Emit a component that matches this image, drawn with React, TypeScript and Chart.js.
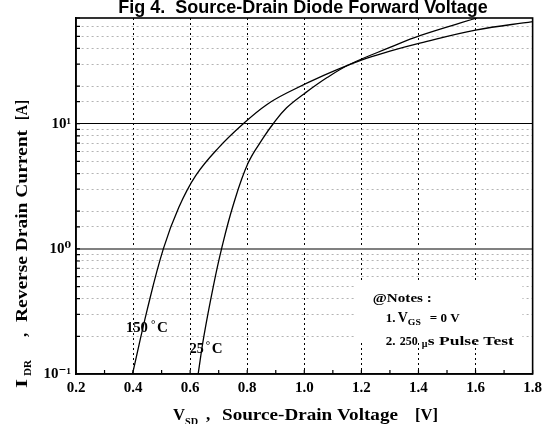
import React, { useEffect, useRef } from "react";
import { Chart, registerables } from "chart.js";

Chart.register(...registerables);

// ---- data ----
const vsd150 = [0.398, 0.45, 0.506, 0.56, 0.62, 0.7, 0.786, 0.868, 0.949, 1.07, 1.2, 1.3, 1.405, 1.6, 1.8];
const idr150 = [0.1, 0.33, 1.0, 2.14, 3.87, 6.45, 10, 14.2, 18.1, 24.5, 32.3, 38, 44, 56, 65.5];
const vsd25 = [0.628, 0.648, 0.681, 0.71, 0.751, 0.803, 0.856, 0.891, 0.938, 1.0, 1.08, 1.16, 1.3, 1.405, 1.605];
const idr25 = [0.1, 0.2, 0.5, 1.0, 2.24, 4.85, 7.7, 10, 13.4, 17.4, 23.4, 29.9, 40.7, 50.6, 70];

const xTickLabels = ["0.2", "0.4", "0.6", "0.8", "1.0", "1.2", "1.4", "1.6", "1.8"];
const yTickValues = [0.1, 1, 10];
const yTickLabels = ["10\u207B\u00B9", "10\u2070", "10\u00B9"];

const SERIF = "'Liberation Serif', 'DejaVu Serif', serif";

function fitText(ctx: CanvasRenderingContext2D, text: string, x: number, y: number, w: number | null, font: string) {
  ctx.font = font;
  const m = ctx.measureText(text).width;
  ctx.save();
  ctx.translate(x, y);
  if (w && m > 0) ctx.scale(w / m, 1);
  ctx.fillText(text, 0, 0);
  ctx.restore();
}

const decorPlugin = {
  id: "decor",
  beforeDatasetsDraw(chart: any) {
    const { ctx } = chart;
    const xs = chart.scales.x;
    const ys = chart.scales.y;
    // white notes box
    const x0 = xs.getPixelForValue(1.175);
    const x1 = xs.getPixelForValue(1.764);
    const y0 = ys.getPixelForValue(0.54);
    const y1 = ys.getPixelForValue(0.177);
    ctx.save();
    ctx.fillStyle = "#fff";
    ctx.fillRect(x0, y0, x1 - x0, y1 - y0);
    ctx.restore();
  },
  afterDraw(chart: any) {
    const { ctx, chartArea } = chart;
    const xs = chart.scales.x;
    const ys = chart.scales.y;
    ctx.save();
    // inner tick marks
    ctx.strokeStyle = "#000";
    ctx.lineWidth = 1.2;
    ctx.beginPath();
    xs.ticks.forEach((t: any) => {
      const px = xs.getPixelForValue(t.value);
      ctx.moveTo(px, chartArea.bottom);
      ctx.lineTo(px, chartArea.bottom - 4);
    });
    ys.ticks.forEach((t: any) => {
      const py = ys.getPixelForValue(t.value);
      ctx.moveTo(chartArea.left, py);
      ctx.lineTo(chartArea.left + 4, py);
    });
    ctx.stroke();
    // frame
    ctx.lineWidth = 1.6;
    ctx.strokeRect(chartArea.left, chartArea.top, chartArea.right - chartArea.left, chartArea.bottom - chartArea.top);

    ctx.fillStyle = "#000";
    ctx.textBaseline = "alphabetic";
    ctx.textAlign = "left";

    // title
    ctx.textAlign = "center";
    ctx.font = "bold 18px 'Liberation Sans', Arial, sans-serif";
    ctx.fillText("Fig 4.  Source-Drain Diode Forward Voltage", 303, 13);
    ctx.textAlign = "left";

    // x axis title
    fitText(ctx, "V", 173, 420, 12, `bold 17px ${SERIF}`);
    fitText(ctx, "SD", 185, 425, 13, `bold 11px ${SERIF}`);
    fitText(ctx, ",", 206, 420, null, `bold 17px ${SERIF}`);
    fitText(ctx, "Source-Drain Voltage", 222, 420, 176, `bold 17px ${SERIF}`);
    fitText(ctx, "[V]", 415, 420, 23, `bold 17px ${SERIF}`);

    // y axis title (rotated)
    ctx.save();
    ctx.translate(27, 390);
    ctx.rotate(-Math.PI / 2);
    fitText(ctx, "I", 2, 0, 9, `bold 17px ${SERIF}`);
    fitText(ctx, "DR", 14, 4, 16, `bold 11px ${SERIF}`);
    fitText(ctx, ",", 53, 0, null, `bold 17px ${SERIF}`);
    fitText(ctx, "Reverse Drain Current", 68, 0, 192, `bold 17px ${SERIF}`);
    fitText(ctx, "[A]", 270, 0, 20, `bold 17px ${SERIF}`);
    ctx.restore();

    // curve labels
    const lx150 = xs.getPixelForValue(0.375);
    const ly150 = ys.getPixelForValue(0.217);
    fitText(ctx, "150", lx150, ly150, 22, `bold 14px ${SERIF}`);
    fitText(ctx, "\u00B0", lx150 + 25, ly150 - 4, null, `bold 11px ${SERIF}`);
    fitText(ctx, "C", lx150 + 31, ly150, null, `bold 15px ${SERIF}`);
    const lx25 = xs.getPixelForValue(0.599);
    const ly25 = ys.getPixelForValue(0.147);
    fitText(ctx, "25", lx25, ly25, 14, `bold 14px ${SERIF}`);
    fitText(ctx, "\u00B0", lx25 + 16, ly25 - 4, null, `bold 11px ${SERIF}`);
    fitText(ctx, "C", lx25 + 22, ly25, null, `bold 15px ${SERIF}`);

    // notes
    const nx = xs.getPixelForValue(1.24);
    const ny = ys.getPixelForValue(0.377);
    fitText(ctx, "@Notes :", nx, ny, 59, `bold 13px ${SERIF}`);
    fitText(ctx, "1.", nx + 13, ny + 20, null, `bold 13px ${SERIF}`);
    fitText(ctx, "V", nx + 25, ny + 20, null, `bold 14px ${SERIF}`);
    fitText(ctx, "GS", nx + 35, ny + 23, 13, `bold 9px ${SERIF}`);
    fitText(ctx, "= 0 V", nx + 57, ny + 20, 30, `bold 13px ${SERIF}`);
    fitText(ctx, "2.", nx + 13, ny + 43, null, `bold 13px ${SERIF}`);
    fitText(ctx, "250", nx + 27, ny + 43, 18, `bold 13px ${SERIF}`);
    fitText(ctx, "\u03BC", nx + 49, ny + 45, null, `bold 10px ${SERIF}`);
    fitText(ctx, "s Pulse Test", nx + 55, ny + 43, 86, `bold 13px ${SERIF}`);

    ctx.restore();
  },
};

export default function App() {
  const ref = useRef<HTMLCanvasElement>(null);
  useEffect(() => {
    if (!ref.current) return;
    const chart = new Chart(ref.current, {
      type: "line",
      data: {
        datasets: [
          {
            label: "150 °C",
            data: vsd150.map((v, i) => ({ x: v, y: idr150[i] })),
            borderColor: "#000",
            borderWidth: 1.3,
            pointRadius: 0,
            tension: 0.4,
            fill: false,
          },
          {
            label: "25 °C",
            data: vsd25.map((v, i) => ({ x: v, y: idr25[i] })),
            borderColor: "#000",
            borderWidth: 1.3,
            pointRadius: 0,
            tension: 0.4,
            fill: false,
          },
        ],
      },
      options: {
        animation: false,
        responsive: false,
        maintainAspectRatio: false,
        devicePixelRatio: 1,
        layout: { padding: { left: 0, right: 13, top: 18, bottom: 0 } },
        plugins: { legend: { display: false }, tooltip: { enabled: false }, title: { display: false } },
        scales: {
          x: {
            type: "linear",
            min: 0.2,
            max: 1.8,
            afterFit: (s: any) => { s.height = 50; },
            ticks: {
              stepSize: 0.1,
              autoSkip: false,
              maxRotation: 0,
              padding: 5,
              color: "#000",
              font: { family: SERIF, size: 15, weight: "bold" },
              callback: (value: any) => {
                const s = Number(value).toFixed(1);
                return xTickLabels.includes(s) ? s : "";
              },
            },
            grid: {
              drawTicks: false,
              lineWidth: 1,
              color: (c: any) => {
                const v = c.tick ? c.tick.value : 0;
                const s = Number(v).toFixed(1);
                const major = xTickLabels.includes(s) && v > 0.25 && v < 1.75;
                return major ? "#000" : "rgba(0,0,0,0)";
              },
            },
            border: {
              display: true,
              color: "#000",
              width: 1.6,
              dash: (c: any) => (c.type === "tick" ? [2, 3] : []),
            },
          },
          y: {
            type: "logarithmic",
            min: 0.1,
            max: 70,
            afterFit: (s: any) => { s.width = 76; },
            ticks: {
              autoSkip: false,
              padding: 5,
              color: "#000",
              font: { family: SERIF, size: 15, weight: "bold" },
              callback: (value: any) => {
                const idx = yTickValues.findIndex((t) => Math.abs(t - Number(value)) < 1e-9);
                return idx >= 0 ? yTickLabels[idx] : "";
              },
            },
            grid: {
              drawTicks: false,
              color: (c: any) => {
                const v = c.tick ? c.tick.value : 0;
                if (Math.abs(v - 10) < 1e-9) return "#000";
                if (Math.abs(v - 1) < 1e-9) return "#808080";
                if (Math.abs(v - 0.1) < 1e-9 || Math.abs(v - 70) < 1e-9) return "rgba(0,0,0,0)";
                return "#b4b4b4";
              },
              lineWidth: (c: any) => {
                const v = c.tick ? c.tick.value : 0;
                if (Math.abs(v - 1) < 1e-9) return 2;
                return 1;
              },
            },
            border: {
              display: true,
              color: "#000",
              width: 1.6,
              dash: (c: any) => {
                if (c.type !== "tick") return [];
                const v = c.tick ? c.tick.value : 0;
                if (Math.abs(v - 1) < 1e-9 || Math.abs(v - 10) < 1e-9) return [];
                return [2, 3];
              },
            },
          },
        },
      },
      plugins: [decorPlugin],
    });
    return () => chart.destroy();
  }, []);
  return (
    <div style={{ position: "fixed", left: 0, top: 0, width: 547, height: 424, background: "#fff" }}>
      <canvas ref={ref} width={547} height={424} style={{ width: 547, height: 424, display: "block" }} />
    </div>
  );
}
